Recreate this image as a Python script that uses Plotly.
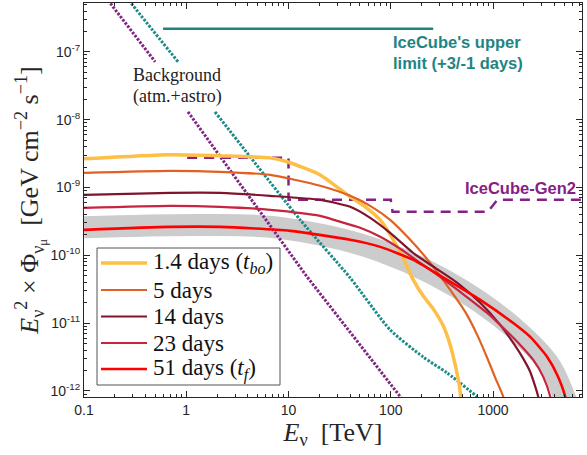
import plotly.graph_objects as go

# ---- neutrino fluence curves: E [TeV] vs E^2 * Phi [GeV cm^-2 s^-1] ----
e_14 = [0.1, 0.694, 2.14, 6.61, 9.69, 20.4, 40.1, 56.2, 78.8, 103, 132, 166, 207, 260, 326, 381,
        427, 467, 500]
f_14 = [2.64e-9, 3.03e-9, 2.92e-9, 2.73e-9, 2.39e-9, 1.53e-9, 7.26e-10, 5.18e-10, 3.33e-10,
        1.81e-10, 9.17e-11, 4.34e-11, 2.52e-11, 1.62e-11, 9.1e-12, 4.76e-12, 2.42e-12, 1.23e-12,
        5.2e-13]

e_5 = [0.1, 0.694, 2.14, 6.61, 20.4, 40.1, 62.9, 98.6, 155, 243, 381, 535, 700, 877, 1052, 1259,
       1318]
f_5 = [1.64e-9, 1.76e-9, 1.70e-9, 1.53e-9, 1.06e-9, 7.52e-10, 5.36e-10, 3.33e-10, 1.69e-10,
       7.73e-11, 3.09e-11, 1.46e-11, 6.7e-12, 3.07e-12, 1.56e-12, 8.2e-13, 5.2e-13]

e_14d = [0.1, 0.694, 2.14, 6.61, 20.4, 40.1, 62.9, 98.6, 166, 272, 447, 750, 1175, 1577, 1930,
         2312, 2768, 2900]
f_14d = [7.78e-10, 8.32e-10, 8.32e-10, 7.52e-10, 6.56e-10, 5.18e-10, 3.56e-10, 2.14e-10, 1.08e-10,
         6.52e-11, 3.92e-11, 1.99e-11, 9.4e-12, 5.1e-12, 3.17e-12, 1.9e-12, 8.2e-13, 5.2e-13]

e_23 = [0.1, 0.694, 2.14, 6.61, 20.4, 29.9, 50.2, 78.8, 124, 194, 304, 478, 877, 1316, 1845, 2473,
        3097, 3631, 3800]
f_23 = [5.0e-10, 5.36e-10, 5.18e-10, 4.68e-10, 3.81e-10, 3.21e-10, 2.54e-10, 1.87e-10, 1.24e-10,
        7.73e-11, 4.8e-11, 2.88e-11, 1.41e-11, 7.94e-12, 4.76e-12, 2.86e-12, 1.61e-12, 8.2e-13,
        5.2e-13]

e_51 = [0.1, 0.694, 2.14, 10.4, 40.1, 78.8, 166, 356, 750, 1577, 2312, 3388, 4246, 5082, 5320]
f_51 = [2.37e-10, 2.62e-10, 2.62e-10, 2.29e-10, 1.69e-10, 1.33e-10, 8.55e-11, 4.34e-11, 2.2e-11,
        1.0e-11, 6.25e-12, 3.17e-12, 1.72e-12, 8.2e-13, 5.2e-13]

# model uncertainty band (centre line)
e_band = [0.1, 1.365, 8.28, 78.7, 750, 3390, 4980, 6330]
f_band = [2.58e-10, 2.8e-10, 2.54e-10, 1.16e-10, 2.04e-11, 2.68e-12, 8.2e-13, 3.2e-13]

# atmospheric + astrophysical background (gap where the label sits)
e_bkg_a = [0.164, 0.1795, 0.496, None, 1.04, 15.2, 124, 138]
f_bkg_a = [6.47e-7, 5.28e-7, 7.13e-8, None, 1.30e-8, 4.8e-11, 8.2e-13, 6.4e-13]
e_bkg_b = [0.264, 0.288, 0.832, None, 1.91, 13.0, 40.1, 98.6, 207, 356, 700]
f_bkg_b = [6.47e-7, 5.28e-7, 7.13e-8, None, 1.30e-8, 3.33e-10, 4.65e-11, 7.94e-12, 3.17e-12,
           1.84e-12, 8.2e-13]

# IceCube upper limit and IceCube-Gen2 sensitivity
e_ul = [0.593, 260]
f_ul = [2.18e-7, 2.18e-7]
e_gen2 = [1.02, 10.0, 10.0, 100, 104, 890, 1100, 7500]
f_gen2 = [2.74e-9, 2.74e-9, 6.56e-10, 6.56e-10, 4.37e-10, 4.37e-10, 6.56e-10, 6.56e-10]

labels = ["1.4 days (<i>t</i><sub><i>bo</i></sub>)", "5 days", "14 days", "23 days",
          "51 days (<i>t</i><sub><i>f</i></sub>)"]
colors = ["#FDBF45", "#DF6222", "#80142C", "#C6243F", "#FF0000"]
widths = [3.5, 2.2, 2.2, 2.2, 2.6]

x_ticks = [0.1, 1, 10, 100, 1000]
x_ticktext = ["0.1", "1", "10", "100", "1000"]
y_ticks = [1e-12, 1e-11, 1e-10, 1e-9, 1e-8, 1e-7]
y_ticktext = ["10<sup>-12</sup>", "10<sup>-11</sup>", "10<sup>-10</sup>",
              "10<sup>-9</sup>", "10<sup>-8</sup>", "10<sup>-7</sup>"]

SERIF = "Liberation Serif, Times New Roman, serif"
SANS = "Liberation Sans, Arial, sans-serif"
AX = "#262626"

# plot-area geometry in pixels (used to place legend / labels)
W, H = 587, 455
ML, MR, MT, MB = 84, 5, 3, 58
PW, PH = W - ML - MR, H - MT - MB


def px(x):
    return (x - ML) / PW


def py(y):
    return (H - MB - y) / PH


fig = go.Figure()

fig.add_trace(go.Scatter(x=e_band, y=f_band, mode="lines", showlegend=False,
                         line=dict(color="#CCCCCC", width=22, shape="spline"), hoverinfo="skip"))
fig.add_trace(go.Scatter(x=e_bkg_a, y=f_bkg_a, mode="lines", showlegend=False, connectgaps=False,
                         line=dict(color="#7F2482", width=3, dash="2.5px,1.5px")))
fig.add_trace(go.Scatter(x=e_bkg_b, y=f_bkg_b, mode="lines", showlegend=False, connectgaps=False,
                         line=dict(color="#1C8A88", width=3, dash="2.5px,1.5px", shape="spline",
                                   smoothing=0.6)))
fig.add_trace(go.Scatter(x=e_ul, y=f_ul, mode="lines", showlegend=False,
                         line=dict(color="#1E8584", width=2.5)))
fig.add_trace(go.Scatter(x=e_gen2, y=f_gen2, mode="lines", showlegend=False,
                         line=dict(color="#862086", width=2.5, dash="10px,7px")))

series = [(e_14, f_14), (e_5, f_5), (e_14d, f_14d), (e_23, f_23), (e_51, f_51)]
for (ex, fx), name, c, w in zip(series, labels, colors, widths):
    fig.add_trace(go.Scatter(x=ex, y=fx, mode="lines", name=name, showlegend=False,
                             line=dict(color=c, width=w, shape="spline", smoothing=0.6)))

# legend box with line samples
leg_rows = [263, 290, 316.5, 343, 369]
fig.add_shape(type="rect", xref="paper", yref="paper", x0=px(97), x1=px(280), y0=py(385),
              y1=py(248), line=dict(color="#555555", width=1), fillcolor="white", layer="above")
for yy, name, c, w in zip(leg_rows, labels, colors, widths):
    fig.add_shape(type="line", xref="paper", yref="paper", x0=px(101), x1=px(147), y0=py(yy),
                  y1=py(yy), line=dict(color=c, width=w), layer="above")
    fig.add_annotation(xref="paper", yref="paper", x=px(151), y=py(yy), xanchor="left",
                       yanchor="middle", showarrow=False, text=name,
                       font=dict(family=SERIF, size=23, color="#111111"))

minor_x = [m * 10.0 ** k for k in range(-1, 4) for m in range(2, 10)]
minor_y = [m * 10.0 ** k for k in range(-13, -6) for m in range(2, 10)]

axis_common = dict(type="log", showgrid=False, zeroline=False, showline=True, linecolor=AX,
                   linewidth=1, mirror="allticks", ticks="inside", ticklen=6, tickcolor=AX,
                   tickfont=dict(family=SANS, size=14, color=AX))

fig.update_xaxes(range=[-1, 3.87], tickmode="array", tickvals=x_ticks, ticktext=x_ticktext,
                 minor=dict(tickmode="array", tickvals=minor_x, ticks="inside", ticklen=3,
                            tickcolor=AX, showgrid=False),
                 title=dict(text="<i>E</i><sub>ν</sub>  [TeV]", font=dict(family=SERIF, size=26,
                            color=AX), standoff=0),
                 **axis_common)
fig.update_yaxes(range=[-12.09, -6.28], tickmode="array", tickvals=y_ticks, ticktext=y_ticktext,
                 minor=dict(tickmode="array", tickvals=minor_y, ticks="inside", ticklen=3,
                            tickcolor=AX, showgrid=False),
                 title=dict(text="<i>E</i><sub>ν</sub><sup>2</sup> × Φ<sub>ν<sub>μ</sub></sub>"
                                 "  [GeV cm<sup>−2</sup> s<sup>−1</sup>]",
                            font=dict(family=SERIF, size=26, color=AX), standoff=2),
                 **axis_common)

ann_teal = "#1E8584"
fig.add_annotation(xref="paper", yref="paper", x=px(391), y=py(42), xanchor="left",
                   yanchor="middle", showarrow=False, text="<b>IceCube's upper</b>",
                   font=dict(family=SANS, size=16.5, color=ann_teal))
fig.add_annotation(xref="paper", yref="paper", x=px(391), y=py(63), xanchor="left",
                   yanchor="middle", showarrow=False, text="<b>limit (+3/-1 days)</b>",
                   font=dict(family=SANS, size=16.5, color=ann_teal))
fig.add_annotation(xref="paper", yref="paper", x=px(578), y=py(188), xanchor="right",
                   yanchor="middle", showarrow=False, text="<b>IceCube-Gen2</b>",
                   font=dict(family=SANS, size=16.5, color="#862086"))
fig.add_annotation(xref="paper", yref="paper", x=px(131), y=py(75), xanchor="left",
                   yanchor="middle", showarrow=False, text="Background",
                   font=dict(family=SERIF, size=18, color="#222222"))
fig.add_annotation(xref="paper", yref="paper", x=px(131), y=py(96), xanchor="left",
                   yanchor="middle", showarrow=False, text="(atm.+astro)",
                   font=dict(family=SERIF, size=18, color="#222222"))

fig.update_layout(
    width=W, height=H,
    margin=dict(l=ML, r=MR, t=MT, b=MB),
    paper_bgcolor="white", plot_bgcolor="white",
    showlegend=False,
)

fig.write_html("out.html")
